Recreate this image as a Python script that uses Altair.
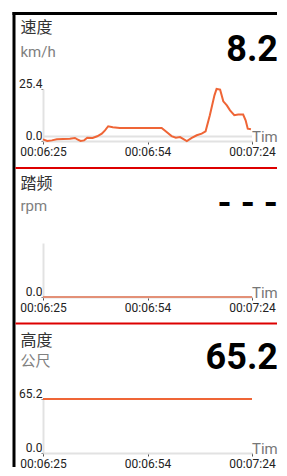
import altair as alt
import pandas as pd

# ---------------- data ----------------
speed_t = [385.0, 386.2, 387.5, 388.9, 390.7, 392.6, 394.0, 394.7, 395.6, 396.6,
           397.5, 399.0, 400.3, 401.6, 402.5, 403.4, 404.7, 406.7, 413.8, 418.5,
           419.9, 421.3, 422.5, 423.7, 425.6, 427.0, 428.4, 429.8, 430.9, 432.1,
           433.4, 434.0, 435.0, 435.9, 436.9, 437.8, 439.0, 440.1, 441.5, 442.2,
           442.8, 443.7]
speed_v = [0.8, 0.0, 0.3, 0.8, 1.0, 1.1, 1.5, 0.8, 0.0, 0.3,
           1.6, 1.5, 2.3, 3.6, 5.2, 7.2, 6.7, 6.4, 6.4, 6.4,
           4.4, 2.4, 1.6, 1.9, 0.0, 1.5, 2.8, 3.6, 4.7, 12.6,
           22.3, 25.4, 25.1, 19.4, 17.4, 15.0, 12.6, 12.9, 12.9, 10.1,
           6.0, 5.7]

cadence_t = [385.0, 444.0]
cadence_v = [0.0, 0.0]

altitude_t = [385.0, 444.0]
altitude_v = [65.2, 65.2]

x_tick_values = [385.0, 414.5, 444.0]
x_tick_labels = ["00:06:25", "00:06:54", "00:07:24"]
x_domain = [385.0, 444.0]

speed_ticks = [0.0, 0.6, 2.2, 25.4]
speed_domain = [0.0, 25.4]
cadence_ticks = [0.0]
cadence_domain = [0.0, 1.0]
altitude_ticks = [0.0, 65.2]
altitude_domain = [0.0, 65.2]

titles = ["速度", "踏频", "高度"]
units = ["km/h", "rpm", "公尺"]
big_values = ["8.2", "-  -  -", "65.2"]
x_title = "Time"

# ---------------- style ----------------
ORANGE = "#EF6536"
SALMON = "#E39077"
PLOT_W = 209
RIGHT = 234   # right-most extent, relative to the plot's left edge

label_expr = " : ".join(
    f"datum.value == {v} ? '{l}'" for v, l in zip(x_tick_values[:-1], x_tick_labels[:-1])
) + f" : '{x_tick_labels[-1]}'"


def text_layer(txt, x, y, size, color, weight="normal", align="left",
               baseline="middle", font="Roboto", limit=0):
    kw = {}
    if limit:
        kw = {"limit": limit, "ellipsis": "\u200b"}
    return alt.Chart(pd.DataFrame({"s": [txt]})).mark_text(
        align=align, baseline=baseline, fontSize=size, color=color,
        fontWeight=weight, font=font, **kw
    ).encode(text="s:N", x=alt.value(x), y=alt.value(y))


def rule_layer(x, x2, y, y2, color, width):
    return alt.Chart(pd.DataFrame({"a": [0]})).mark_rule(
        color=color, strokeWidth=width
    ).encode(x=alt.value(x), x2=alt.value(x2), y=alt.value(y), y2=alt.value(y2))


def panel(t, v, ydomain, yticks, height, idx, color, title_y, unit_y, big_y,
          red_y=None, border=False, grid_at=None):
    df = pd.DataFrame({"t": t, "v": v})
    xaxis = alt.Axis(values=x_tick_values, labelExpr=label_expr, labelFlush=False,
                     labelOverlap=False, tickSize=3, tickColor="#555",
                     domainColor="#e2e2e2", domainWidth=2, labelPadding=2,
                     labelFontSize=12, labelColor="#222", labelFont="Roboto",
                     title=None, grid=False)
    yaxis = alt.Axis(values=yticks, format=".1f", labelAlign="right",
                     labelBaseline="alphabetic", labelOffset=-2, labelPadding=-1,
                     tickSize=2, tickColor="#777", domainColor="#e2e2e2",
                     domainWidth=2, grid=False, title=None, labelFontSize=12,
                     labelColor="#222", labelFont="Roboto", labelOverlap=False,
                     labelFlush=False)
    line = alt.Chart(df).mark_line(color=color, strokeWidth=2).encode(
        x=alt.X("t:Q", scale=alt.Scale(domain=x_domain, nice=False, zero=False), axis=xaxis),
        y=alt.Y("v:Q", scale=alt.Scale(domain=ydomain, nice=False), axis=yaxis),
    )
    layers = []
    if grid_at is not None:
        layers.append(
            alt.Chart(pd.DataFrame({"g": [grid_at]})).mark_rule(
                color="#e2e2e2", strokeWidth=2
            ).encode(y="g:Q", x=alt.value(0), x2=alt.value(PLOT_W))
        )
    layers.append(line)
    if border:
        layers.append(rule_layer(-29, -29, -77, 378, "#000", 3))
        layers.append(rule_layer(-30.5, RIGHT, -75.5, -75.5, "#000", 3))
    if red_y is not None:
        layers.append(rule_layer(-27.5, RIGHT, red_y, red_y, "#DD0000", 2))
    layers.append(text_layer(titles[idx], -22.5, title_y, 16, "#333",
                             font="Noto Sans CJK SC"))
    layers.append(text_layer(units[idx], -22.5, unit_y, 15, "#808080",
                             font="Noto Sans CJK SC" if idx == 2 else "Roboto",
                             baseline="middle" if idx == 2 else "alphabetic"))
    layers.append(text_layer(big_values[idx], RIGHT + 1, big_y, 36, "#000",
                             weight="bold", align="right", baseline="alphabetic"))
    layers.append(text_layer(x_title, 209, height - 4.5, 15, "#777", limit=27))
    return alt.layer(*layers).properties(width=PLOT_W, height=height)


p1 = panel(speed_t, speed_v, speed_domain, speed_ticks, 52, 0, ORANGE,
           title_y=-60.7, unit_y=-32, big_y=-27.7, border=True, grid_at=2.2)
p2 = panel(cadence_t, cadence_v, cadence_domain, cadence_ticks, 54, 1, SALMON,
           title_y=-59.5, unit_y=-32.5, big_y=-28, red_y=-75)
p3 = panel(altitude_t, altitude_v, altitude_domain, altitude_ticks, 54, 2, ORANGE,
           title_y=-58.5, unit_y=-38, big_y=-30.3, red_y=-75.5)

chart = alt.vconcat(p1, p2, p3, spacing=102, bounds="flush").properties(
    padding={"left": 3, "top": 2, "right": 0, "bottom": 0}
).configure_view(stroke=None)

chart.save("out.html", embed_options={"renderer": "svg", "actions": False})
